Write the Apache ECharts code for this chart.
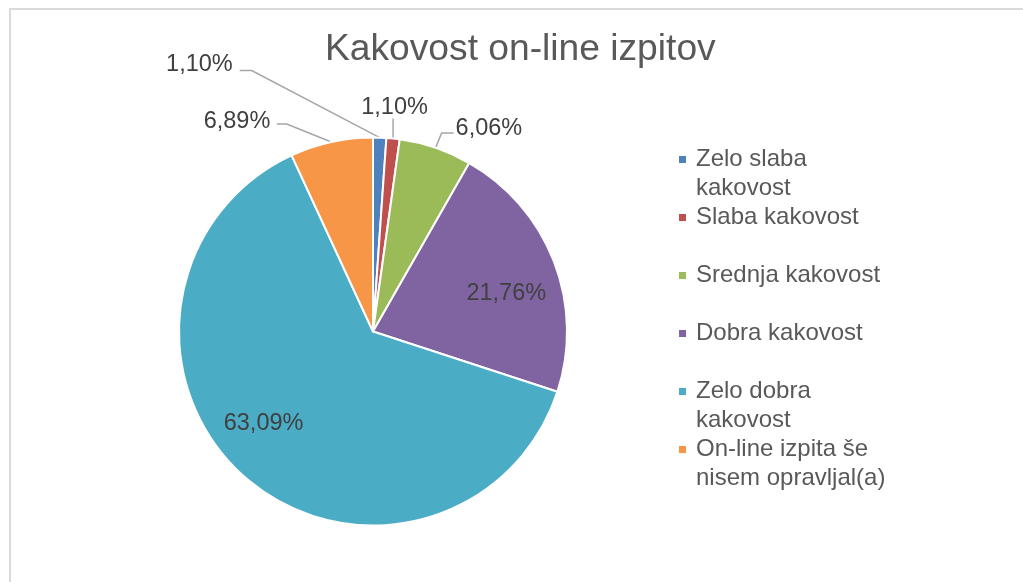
<!DOCTYPE html>
<html>
<head>
<meta charset="utf-8">
<title>Kakovost on-line izpitov</title>
<script src="https://cdn.jsdelivr.net/npm/echarts@6/dist/echarts.min.js"></script>
<style>
  html, body { margin: 0; padding: 0; background: #fff; }
  #chart { width: 1023px; height: 582px; }
</style>
</head>
<body>
<div id="chart"></div>
<script>
// 数据
const categories = [
  'Zelo slaba kakovost',
  'Slaba kakovost',
  'Srednja kakovost',
  'Dobra kakovost',
  'Zelo dobra kakovost',
  'On-line izpita še nisem opravljal(a)'
];
const shares = [1.10, 1.10, 6.06, 21.76, 63.09, 6.89];
const colors = ['#4F81BD', '#C0504D', '#9BBB59', '#8064A2', '#4BACC6', '#F79646'];

const FONT = '"Liberation Sans", Arial, sans-serif';
const CENTER = [373, 331.5];
const RADIUS = 194;

// leader lines for outside labels, offsets from the slice edge point
const outsideLabel = {
  0: { p1: [-128, -67], p2: [-140, -67], text: [-147, -73], align: 'right' },
  1: { p1: [0, -20], p2: [0, -20], text: [1.5, -31], align: 'center' },
  2: { p1: [6, -15], p2: [18, -15], text: [20, -19.5], align: 'left' },
  5: { p1: [-44.6, -18], p2: [-54.6, -18], text: [-61, -21], align: 'right' }
};
// inside labels sit further out than echarts default
const insideShift = { 3: [40, -2], 4: [-43, 17] };

const total = shares.reduce((a, b) => a + b, 0);
// edge point of a slice at its middle angle (clockwise from 12 o'clock)
function edgePoint(i) {
  let before = 0;
  for (let k = 0; k < i; k++) before += shares[k];
  const a = (before + shares[i] / 2) / total * 2 * Math.PI;
  return [CENTER[0] + RADIUS * Math.sin(a), CENTER[1] - RADIUS * Math.cos(a)];
}

// wrap legend names like excel does
const ctx = document.createElement('canvas').getContext('2d');
ctx.font = '24px ' + FONT;
function wrap(text, maxW) {
  const words = text.split(' ');
  const lines = [];
  let cur = '';
  words.forEach(w => {
    const t = cur ? cur + ' ' + w : w;
    if (cur && ctx.measureText(t).width > maxW) {
      lines.push(cur);
      cur = w;
    } else {
      cur = t;
    }
  });
  lines.push(cur);
  return lines;
}

const rich = {
  t: { fontSize: 24, lineHeight: 29, color: '#595959', fontFamily: FONT },
  g: { width: 10, height: 7, lineHeight: 29 },
  g2: { width: 17, height: 7, lineHeight: 29 }
};
colors.forEach((c, i) => {
  rich['m' + i] = { width: 7, height: 7, lineHeight: 29, backgroundColor: c };
});

const chartInstance = echarts.init(document.getElementById('chart'));
const option = {
  animation: false,
  backgroundColor: '#fff',
  graphic: [{
    type: 'rect',
    shape: { x: 10, y: 9, width: 1200, height: 800 },
    style: { fill: 'none', stroke: '#D9D9D9', lineWidth: 2 },
    silent: true
  }],
  title: {
    text: 'Kakovost on-line izpitov',
    left: 325,
    top: 31,
    padding: 0,
    textStyle: { fontSize: 37.2, fontWeight: 'normal', color: '#595959', fontFamily: FONT }
  },
  legend: {
    orient: 'vertical',
    left: 674,
    top: 147.5,
    padding: 0,
    itemGap: 5,
    icon: 'none',
    itemWidth: 0,
    itemHeight: 0,
    data: categories,
    formatter: function (name) {
      const i = categories.indexOf(name);
      const lines = wrap(name, 205);
      if (lines.length < 2) lines.push('\u00a0');
      return lines.map((l, k) => (k === 0 ? '{m' + i + '|}{g|}' : '{g2|}') + '{t|' + l + '}').join('\n');
    },
    textStyle: { rich: rich }
  },
  series: [{
    type: 'pie',
    center: CENTER,
    radius: RADIUS,
    startAngle: 90,
    clockwise: true,
    avoidLabelOverlap: false,
    emphasis: { scale: false },
    itemStyle: { borderColor: '#fff', borderWidth: 2 },
    label: {
      show: true,
      fontSize: 23.5,
      color: '#404040',
      fontFamily: FONT,
      formatter: p => p.value.toFixed(2).replace('.', ',') + '%'
    },
    labelLine: {
      show: true,
      length: 10,
      length2: 10,
      lineStyle: { color: '#A6A6A6', width: 1.5 }
    },
    labelLayout: function (params) {
      const i = params.dataIndex;
      if (insideShift[i]) {
        const r = params.labelRect;
        return {
          x: r.x + r.width / 2 + insideShift[i][0],
          y: r.y + r.height / 2 + insideShift[i][1],
          align: 'center',
          verticalAlign: 'middle'
        };
      }
      const o = outsideLabel[i];
      const p0 = edgePoint(i);
      return {
        x: p0[0] + o.text[0],
        y: p0[1] + o.text[1],
        align: o.align,
        verticalAlign: 'middle',
        labelLinePoints: [
          p0,
          [p0[0] + o.p1[0], p0[1] + o.p1[1]],
          [p0[0] + o.p2[0], p0[1] + o.p2[1]]
        ]
      };
    },
    data: categories.map((name, i) => {
      const inside = shares[i] > 10;
      return {
        name: name,
        value: shares[i],
        itemStyle: { color: colors[i] },
        label: { position: inside ? 'inside' : 'outside' },
        labelLine: { show: !inside }
      };
    })
  }]
};
chartInstance.setOption(option);
</script>
</body>
</html>
